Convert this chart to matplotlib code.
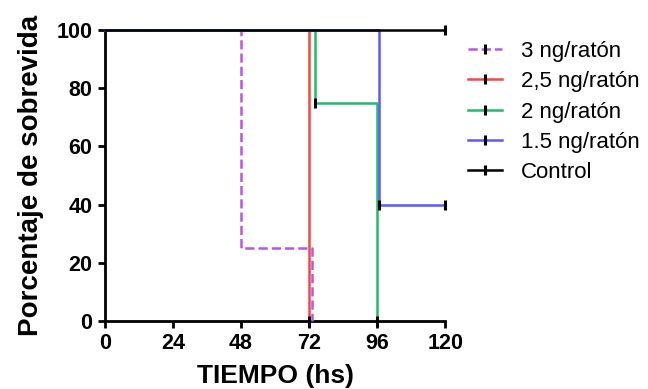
import matplotlib
import matplotlib.pyplot as plt
from matplotlib.lines import Line2D

matplotlib.use("agg")
plt.rcParams["font.family"] = ["Liberation Sans", "DejaVu Sans"]

# survival curves (time in hs, % survival)
labels = ["3 ng/ratón", "2,5 ng/ratón", "2 ng/ratón", "1.5 ng/ratón", "Control"]
colors = ["#bb55e6", "#f24848", "#22bb6e", "#5a5aff", "black"]
styles = ["--", "-", "-", "-", "-"]

t_3 = [0, 48, 73]
s_3 = [100, 25, 0]
t_25 = [0, 72]
s_25 = [100, 0]
t_2 = [0, 74, 96]
s_2 = [100, 75, 0]
t_15 = [0, 96.5, 120]
s_15 = [100, 40, 40]
t_ctrl = [0, 120]
s_ctrl = [100, 100]

# censored marks
cens_t = [72, 74, 96, 96.5, 120, 120]
cens_s = [0, 75, 0, 40, 40, 100]

series = [(t_3, s_3), (t_25, s_25), (t_2, s_2), (t_15, s_15), (t_ctrl, s_ctrl)]

fig = plt.figure(figsize=(6.48, 3.89), dpi=100)
ax = fig.add_axes([0.162, 0.175, 0.525, 0.748])

for (t, s), c, ls in zip(series, colors, styles):
    ax.plot(t, s, drawstyle="steps-post", color=c, ls=ls, lw=1.8, clip_on=False, zorder=3)

ax.plot(cens_t, cens_s, ls="none", marker="|", ms=7, mew=2.2, color="black", clip_on=False, zorder=4)

ax.set_xlim(0, 120)
ax.set_ylim(0, 100)
ax.set_xticks([0, 24, 48, 72, 96, 120])
ax.set_yticks([0, 20, 40, 60, 80, 100])
for side in ["top", "right"]:
    ax.spines[side].set_visible(False)
for side in ["left", "bottom"]:
    ax.spines[side].set_linewidth(2)
ax.tick_params(width=2, length=5, labelsize=15.5, direction="out", pad=4)
for lab in ax.get_xticklabels() + ax.get_yticklabels():
    lab.set_fontweight("bold")

ax.set_xlabel("TIEMPO (hs)", fontsize=19, fontweight="bold", labelpad=7)
ax.set_ylabel("Porcentaje de sobrevida", fontsize=20, fontweight="bold", labelpad=9)

handles = [
    Line2D([0], [0], color=c, ls=ls, lw=1.8, marker="|", ms=7, mew=2.2, mec="black")
    for c, ls in zip(colors, styles)
]
fig.legend(handles, labels, loc="center left", bbox_to_anchor=(0.722, 0.712),
           frameon=False, fontsize=16, handlelength=1.55, labelspacing=0.42,
           handletextpad=0.85, borderpad=0, borderaxespad=0)

plt.savefig("out.png", dpi=100)
